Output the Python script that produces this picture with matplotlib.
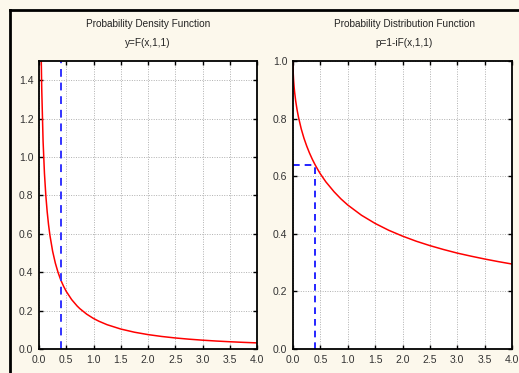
import matplotlib
matplotlib.use("Agg")
import matplotlib.pyplot as plt
from matplotlib.lines import Line2D

plt.rcParams['font.family'] = ['Liberation Sans', 'DejaVu Sans']

# Data
x_pdf = [0.03, 0.04, 0.05, 0.075, 0.1, 0.125, 0.15, 0.175, 0.2, 0.25, 0.3, 0.35,
         0.4, 0.45, 0.5, 0.6, 0.7, 0.75, 0.875, 1.0, 1.1, 1.25, 1.5, 1.75,
         2.0, 2.25, 2.5, 2.75, 3.0, 3.25, 3.5, 3.75, 4.0]
y_pdf = [1.78, 1.530, 1.356, 1.081, 0.915, 0.800, 0.715, 0.6476, 0.593, 0.509,
         0.447, 0.3986, 0.359, 0.3273, 0.300, 0.257, 0.2238, 0.210, 0.1815,
         0.159, 0.1445, 0.1265, 0.104, 0.0875, 0.075, 0.0653, 0.0575, 0.0512,
         0.046, 0.0415, 0.0378, 0.0346, 0.0318]

x_sf = [0.0, 0.0025, 0.005, 0.01, 0.02, 0.03, 0.05, 0.075, 0.1, 0.15, 0.2,
        0.25, 0.3, 0.35, 0.4, 0.45, 0.5, 0.6, 0.75, 0.875, 1.0, 1.25, 1.5,
        1.75, 2.0, 2.25, 2.5, 2.75, 3.0, 3.25, 3.5, 3.75, 4.0]
y_sf = [1.0, 0.968, 0.955, 0.9365, 0.9106, 0.891, 0.860, 0.8298, 0.805,
        0.7645, 0.732, 0.7049, 0.681, 0.6599, 0.641, 0.6239, 0.608, 0.5804,
        0.546, 0.5213, 0.5, 0.4645, 0.436, 0.4121, 0.392, 0.3743, 0.359,
        0.3454, 0.333, 0.3224, 0.3125, 0.3034, 0.295]

x_mark = 0.4
p_mark = 0.64

titles = ["Probability Density Function", "Probability Distribution Function"]
subtitles = ["y=F(x,1,1)", "p=1-iF(x,1,1)"]
x_ticks = [0.0, 0.5, 1.0, 1.5, 2.0, 2.5, 3.0, 3.5, 4.0]
y_ticks_left = [0.0, 0.2, 0.4, 0.6, 0.8, 1.0, 1.2, 1.4]
y_ticks_right = [0.0, 0.2, 0.4, 0.6, 0.8, 1.0]

bg = '#FCF8EC'
W, H = 519, 373
fig = plt.figure(figsize=(W / 100, H / 100), dpi=100, facecolor=bg)

def fx(px):
    return px / W

def fy(py):
    return 1 - py / H

ax1 = fig.add_axes([fx(39), fy(349), fx(257) - fx(39), fy(61) - fy(349)])
ax2 = fig.add_axes([fx(293), fy(349), fx(512) - fx(293), fy(61) - fy(349)])

for ax in (ax1, ax2):
    ax.set_facecolor('white')
    ax.set_xlim(0, 4)
    ax.set_xticks(x_ticks)
    ax.set_xticklabels([f"{v:.1f}" for v in x_ticks])
    ax.grid(True, color='#b0b0b0', linestyle=(0, (1, 1.5)), linewidth=0.7)
    ax.tick_params(direction='in', length=3, width=1, top=True, right=True,
                   labelsize=7.5, labelcolor='#333333', pad=4, color='black')
    for s in ax.spines.values():
        s.set_linewidth(1.3)
        s.set_color('black')

ax1.set_ylim(0, 1.5)
ax1.set_yticks(y_ticks_left)
ax1.set_yticklabels([f"{v:.1f}" for v in y_ticks_left])
ax1.plot(x_pdf, y_pdf, color='red', linewidth=1.1, clip_on=True)
ax1.axvline(x_mark, color='#3333ff', linestyle=(0, (4, 3)), linewidth=1.4)

ax2.set_ylim(0, 1.0)
ax2.set_yticks(y_ticks_right)
ax2.set_yticklabels([f"{v:.1f}" for v in y_ticks_right])
ax2.plot(x_sf, y_sf, color='red', linewidth=1.1)
ax2.plot([x_mark, x_mark], [0, p_mark], color='blue', linestyle=(0, (4, 3)), linewidth=1.2)
ax2.plot([0, x_mark], [p_mark, p_mark], color='blue', linestyle=(0, (4, 3)), linewidth=1.2)

# titles
for cx, t, st in [(148, titles[0], subtitles[0]), (404, titles[1], subtitles[1])]:
    fig.text(fx(cx), fy(24), t, ha='center', va='center', fontsize=7.2, color='#222222')
    fig.text(fx(cx), fy(43), st, ha='center', va='center', fontsize=7.2, color='#222222')

# outer border lines
fig.add_artist(Line2D([fx(10), 1], [fy(10), fy(10)], color='black', linewidth=2))
fig.add_artist(Line2D([fx(10), fx(10)], [fy(10), 0], color='black', linewidth=2))

fig.savefig('out.png', dpi=100, facecolor=bg)
